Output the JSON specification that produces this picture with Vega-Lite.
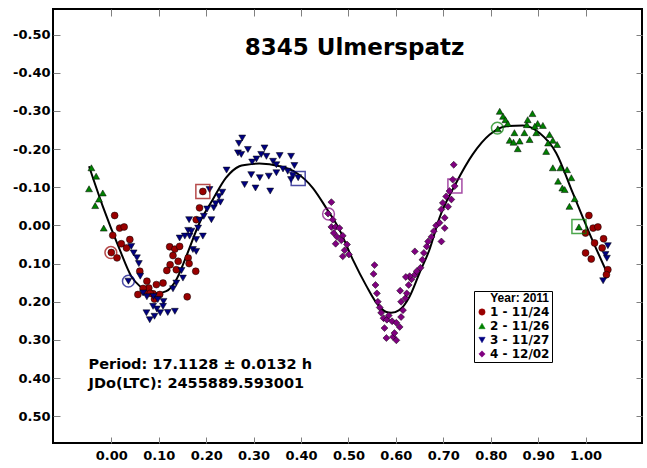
{
  "$schema": "https://vega.github.io/schema/vega-lite/v6.json",
  "width": 589,
  "height": 434,
  "autosize": "none",
  "padding": {"left": 53, "top": 9, "right": 5, "bottom": 25},
  "background": "white",
  "title": {"text": "8345 Ulmerspatz", "font": "DejaVu Sans", "fontSize": 23, "fontWeight": "bold", "color": "black", "offset": -69, "baseline": "alphabetic", "dx": 7, "anchor": "middle", "frame": "group"},
  "config": {
    "view": {"stroke": "black", "strokeWidth": 2},
    "axis": {"grid": false, "domain": false, "tickColor": "#808080", "tickWidth": 1, "labelColor": "black", "labelFont": "DejaVu Sans", "labelFontWeight": "bold", "labelFontSize": 13, "title": null}
  },
  "datasets": {
    "curve": [
      {"x": -0.047, "y": -0.155}, {"x": -0.018, "y": -0.05}, {"x": 0.0175, "y": 0.063}, {"x": 0.042, "y": 0.133},
      {"x": 0.06, "y": 0.159}, {"x": 0.075, "y": 0.172}, {"x": 0.095, "y": 0.178}, {"x": 0.116, "y": 0.172},
      {"x": 0.137, "y": 0.142}, {"x": 0.158, "y": 0.081}, {"x": 0.186, "y": -0.007}, {"x": 0.214, "y": -0.068},
      {"x": 0.242, "y": -0.125}, {"x": 0.27, "y": -0.155}, {"x": 0.285, "y": -0.159}, {"x": 0.312, "y": -0.162},
      {"x": 0.355, "y": -0.155}, {"x": 0.39, "y": -0.138}, {"x": 0.425, "y": -0.098}, {"x": 0.453, "y": -0.046},
      {"x": 0.481, "y": 0.011}, {"x": 0.509, "y": 0.089}, {"x": 0.538, "y": 0.159}, {"x": 0.559, "y": 0.203},
      {"x": 0.58, "y": 0.227}, {"x": 0.59, "y": 0.229}, {"x": 0.607, "y": 0.222}, {"x": 0.629, "y": 0.186},
      {"x": 0.65, "y": 0.124}, {"x": 0.671, "y": 0.063}, {"x": 0.692, "y": -0.02}, {"x": 0.727, "y": -0.111},
      {"x": 0.762, "y": -0.186}, {"x": 0.798, "y": -0.238}, {"x": 0.833, "y": -0.26}, {"x": 0.868, "y": -0.262},
      {"x": 0.903, "y": -0.242}, {"x": 0.938, "y": -0.19}, {"x": 0.973, "y": -0.085}, {"x": 1.008, "y": 0.02},
      {"x": 1.047, "y": 0.129}
    ],
    "points": [
      {"series": "1 - 11/24", "x": 0.007, "y": -0.026}, {"series": "1 - 11/24", "x": 0.0175, "y": 0.007},
      {"series": "1 - 11/24", "x": 0.027, "y": 0.004}, {"series": "1 - 11/24", "x": 0.003, "y": 0.026},
      {"series": "1 - 11/24", "x": 0.039, "y": 0.037}, {"series": "1 - 11/24", "x": 0.021, "y": 0.048},
      {"series": "1 - 11/24", "x": 0.032, "y": 0.059}, {"series": "1 - 11/24", "x": 0.0, "y": 0.071},
      {"series": "1 - 11/24", "x": 0.012, "y": 0.085}, {"series": "1 - 11/24", "x": 0.123, "y": 0.056},
      {"series": "1 - 11/24", "x": 0.134, "y": 0.062}, {"series": "1 - 11/24", "x": 0.144, "y": 0.055},
      {"series": "1 - 11/24", "x": 0.130, "y": 0.079}, {"series": "1 - 11/24", "x": 0.141, "y": 0.094},
      {"series": "1 - 11/24", "x": 0.162, "y": 0.085}, {"series": "1 - 11/24", "x": 0.124, "y": 0.103},
      {"series": "1 - 11/24", "x": 0.117, "y": 0.118}, {"series": "1 - 11/24", "x": 0.137, "y": 0.116},
      {"series": "1 - 11/24", "x": 0.164, "y": 0.100}, {"series": "1 - 11/24", "x": 0.178, "y": 0.120},
      {"series": "1 - 11/24", "x": 0.060, "y": 0.120}, {"series": "1 - 11/24", "x": 0.075, "y": 0.146},
      {"series": "1 - 11/24", "x": 0.095, "y": 0.155}, {"series": "1 - 11/24", "x": 0.109, "y": 0.151},
      {"series": "1 - 11/24", "x": 0.056, "y": 0.181}, {"series": "1 - 11/24", "x": 0.070, "y": 0.173},
      {"series": "1 - 11/24", "x": 0.088, "y": 0.179}, {"series": "1 - 11/24", "x": 0.102, "y": 0.181},
      {"series": "1 - 11/24", "x": 0.091, "y": 0.193}, {"series": "1 - 11/24", "x": 0.160, "y": 0.187},
      {"series": "1 - 11/24", "x": 0.179, "y": -0.015}, {"series": "1 - 11/24", "x": 0.186, "y": -0.046},
      {"series": "1 - 11/24", "x": 0.193, "y": -0.089}, {"series": "1 - 11/24", "x": 0.079, "y": 0.164},
      {"series": "1 - 11/24", "x": 0.067, "y": 0.165}, {"series": "1 - 11/24", "x": 0.082, "y": 0.178},
      {"series": "1 - 11/24", "x": 1.007, "y": -0.026}, {"series": "1 - 11/24", "x": 1.016, "y": 0.007},
      {"series": "1 - 11/24", "x": 1.026, "y": 0.004}, {"series": "1 - 11/24", "x": 1.0, "y": 0.020},
      {"series": "1 - 11/24", "x": 1.038, "y": 0.035}, {"series": "1 - 11/24", "x": 1.019, "y": 0.046},
      {"series": "1 - 11/24", "x": 1.035, "y": 0.059}, {"series": "1 - 11/24", "x": 1.0, "y": 0.072},
      {"series": "1 - 11/24", "x": 1.012, "y": 0.088}, {"series": "1 - 11/24", "x": 1.047, "y": 0.116},
      {"series": "1 - 11/24", "x": 1.044, "y": 0.129},

      {"series": "2 - 11/26", "x": -0.042, "y": -0.151}, {"series": "2 - 11/26", "x": -0.032, "y": -0.129},
      {"series": "2 - 11/26", "x": -0.047, "y": -0.096}, {"series": "2 - 11/26", "x": -0.018, "y": -0.085},
      {"series": "2 - 11/26", "x": -0.026, "y": -0.069}, {"series": "2 - 11/26", "x": -0.034, "y": -0.052},
      {"series": "2 - 11/26", "x": -0.016, "y": 0.007},
      {"series": "2 - 11/26", "x": 0.819, "y": -0.299}, {"series": "2 - 11/26", "x": 0.826, "y": -0.286},
      {"series": "2 - 11/26", "x": 0.831, "y": -0.277}, {"series": "2 - 11/26", "x": 0.836, "y": -0.267},
      {"series": "2 - 11/26", "x": 0.815, "y": -0.253}, {"series": "2 - 11/26", "x": 0.850, "y": -0.243},
      {"series": "2 - 11/26", "x": 0.840, "y": -0.223}, {"series": "2 - 11/26", "x": 0.861, "y": -0.221},
      {"series": "2 - 11/26", "x": 0.848, "y": -0.218}, {"series": "2 - 11/26", "x": 0.857, "y": -0.201},
      {"series": "2 - 11/26", "x": 0.871, "y": -0.243}, {"series": "2 - 11/26", "x": 0.876, "y": -0.264},
      {"series": "2 - 11/26", "x": 0.878, "y": -0.277}, {"series": "2 - 11/26", "x": 0.888, "y": -0.293},
      {"series": "2 - 11/26", "x": 0.882, "y": -0.225}, {"series": "2 - 11/26", "x": 0.896, "y": -0.243},
      {"series": "2 - 11/26", "x": 0.899, "y": -0.267}, {"series": "2 - 11/26", "x": 0.910, "y": -0.262},
      {"series": "2 - 11/26", "x": 0.893, "y": -0.260}, {"series": "2 - 11/26", "x": 0.924, "y": -0.238},
      {"series": "2 - 11/26", "x": 0.921, "y": -0.216}, {"series": "2 - 11/26", "x": 0.931, "y": -0.223},
      {"series": "2 - 11/26", "x": 0.940, "y": -0.212}, {"series": "2 - 11/26", "x": 0.917, "y": -0.194},
      {"series": "2 - 11/26", "x": 0.931, "y": -0.151}, {"series": "2 - 11/26", "x": 0.947, "y": -0.151},
      {"series": "2 - 11/26", "x": 0.961, "y": -0.146}, {"series": "2 - 11/26", "x": 0.970, "y": -0.125},
      {"series": "2 - 11/26", "x": 0.942, "y": -0.116}, {"series": "2 - 11/26", "x": 0.951, "y": -0.098},
      {"series": "2 - 11/26", "x": 0.956, "y": -0.094}, {"series": "2 - 11/26", "x": 0.977, "y": -0.070},
      {"series": "2 - 11/26", "x": 0.966, "y": -0.050}, {"series": "2 - 11/26", "x": 0.986, "y": 0.004},

      {"series": "3 - 11/27", "x": 0.042, "y": 0.055}, {"series": "3 - 11/27", "x": 0.047, "y": 0.072},
      {"series": "3 - 11/27", "x": 0.054, "y": 0.085}, {"series": "3 - 11/27", "x": 0.058, "y": 0.100},
      {"series": "3 - 11/27", "x": 0.036, "y": 0.146}, {"series": "3 - 11/27", "x": 0.061, "y": 0.133},
      {"series": "3 - 11/27", "x": 0.067, "y": 0.177}, {"series": "3 - 11/27", "x": 0.075, "y": 0.187},
      {"series": "3 - 11/27", "x": 0.089, "y": 0.186}, {"series": "3 - 11/27", "x": 0.098, "y": 0.194},
      {"series": "3 - 11/27", "x": 0.110, "y": 0.199}, {"series": "3 - 11/27", "x": 0.074, "y": 0.229},
      {"series": "3 - 11/27", "x": 0.081, "y": 0.247}, {"series": "3 - 11/27", "x": 0.091, "y": 0.238},
      {"series": "3 - 11/27", "x": 0.096, "y": 0.219}, {"series": "3 - 11/27", "x": 0.103, "y": 0.229},
      {"series": "3 - 11/27", "x": 0.109, "y": 0.212}, {"series": "3 - 11/27", "x": 0.119, "y": 0.228},
      {"series": "3 - 11/27", "x": 0.134, "y": 0.225}, {"series": "3 - 11/27", "x": 0.088, "y": 0.212},
      {"series": "3 - 11/27", "x": 0.130, "y": 0.166}, {"series": "3 - 11/27", "x": 0.137, "y": 0.151},
      {"series": "3 - 11/27", "x": 0.151, "y": 0.138}, {"series": "3 - 11/27", "x": 0.148, "y": 0.118},
      {"series": "3 - 11/27", "x": 0.172, "y": 0.063}, {"series": "3 - 11/27", "x": 0.179, "y": 0.068},
      {"series": "3 - 11/27", "x": 0.144, "y": 0.033}, {"series": "3 - 11/27", "x": 0.155, "y": 0.028},
      {"series": "3 - 11/27", "x": 0.165, "y": 0.028}, {"series": "3 - 11/27", "x": 0.179, "y": 0.037},
      {"series": "3 - 11/27", "x": 0.193, "y": 0.028}, {"series": "3 - 11/27", "x": 0.162, "y": 0.013},
      {"series": "3 - 11/27", "x": 0.169, "y": 0.015}, {"series": "3 - 11/27", "x": 0.183, "y": 0.007},
      {"series": "3 - 11/27", "x": 0.164, "y": -0.015}, {"series": "3 - 11/27", "x": 0.186, "y": -0.014},
      {"series": "3 - 11/27", "x": 0.195, "y": -0.024}, {"series": "3 - 11/27", "x": 0.211, "y": -0.015},
      {"series": "3 - 11/27", "x": 0.202, "y": -0.043}, {"series": "3 - 11/27", "x": 0.216, "y": -0.046},
      {"series": "3 - 11/27", "x": 0.220, "y": -0.057}, {"series": "3 - 11/27", "x": 0.230, "y": -0.061},
      {"series": "3 - 11/27", "x": 0.227, "y": -0.076}, {"series": "3 - 11/27", "x": 0.234, "y": -0.087},
      {"series": "3 - 11/27", "x": 0.207, "y": -0.094}, {"series": "3 - 11/27", "x": 0.243, "y": -0.145},
      {"series": "3 - 11/27", "x": 0.267, "y": -0.190}, {"series": "3 - 11/27", "x": 0.276, "y": -0.229},
      {"series": "3 - 11/27", "x": 0.269, "y": -0.215}, {"series": "3 - 11/27", "x": 0.274, "y": -0.186},
      {"series": "3 - 11/27", "x": 0.288, "y": -0.199}, {"series": "3 - 11/27", "x": 0.323, "y": -0.203},
      {"series": "3 - 11/27", "x": 0.316, "y": -0.186}, {"series": "3 - 11/27", "x": 0.327, "y": -0.181},
      {"series": "3 - 11/27", "x": 0.306, "y": -0.174}, {"series": "3 - 11/27", "x": 0.297, "y": -0.166},
      {"series": "3 - 11/27", "x": 0.341, "y": -0.168}, {"series": "3 - 11/27", "x": 0.355, "y": -0.183},
      {"series": "3 - 11/27", "x": 0.348, "y": -0.159}, {"series": "3 - 11/27", "x": 0.379, "y": -0.181},
      {"series": "3 - 11/27", "x": 0.386, "y": -0.157}, {"series": "3 - 11/27", "x": 0.362, "y": -0.148},
      {"series": "3 - 11/27", "x": 0.372, "y": -0.142}, {"series": "3 - 11/27", "x": 0.295, "y": -0.133},
      {"series": "3 - 11/27", "x": 0.313, "y": -0.125}, {"series": "3 - 11/27", "x": 0.332, "y": -0.129},
      {"series": "3 - 11/27", "x": 0.348, "y": -0.138}, {"series": "3 - 11/27", "x": 0.281, "y": -0.107},
      {"series": "3 - 11/27", "x": 0.304, "y": -0.098}, {"series": "3 - 11/27", "x": 0.335, "y": -0.090},
      {"series": "3 - 11/27", "x": 0.379, "y": -0.120}, {"series": "3 - 11/27", "x": 0.394, "y": -0.125},
      {"series": "3 - 11/27", "x": 0.383, "y": -0.131},
      {"series": "3 - 11/27", "x": 1.047, "y": 0.053}, {"series": "3 - 11/27", "x": 1.042, "y": 0.076},
      {"series": "3 - 11/27", "x": 1.045, "y": 0.086}, {"series": "3 - 11/27", "x": 1.037, "y": 0.145},

      {"series": "4 - 12/02", "x": 0.464, "y": -0.061}, {"series": "4 - 12/02", "x": 0.457, "y": -0.031},
      {"series": "4 - 12/02", "x": 0.467, "y": -0.015}, {"series": "4 - 12/02", "x": 0.464, "y": 0.004},
      {"series": "4 - 12/02", "x": 0.473, "y": 0.004}, {"series": "4 - 12/02", "x": 0.481, "y": 0.007},
      {"series": "4 - 12/02", "x": 0.469, "y": 0.020}, {"series": "4 - 12/02", "x": 0.476, "y": 0.030},
      {"series": "4 - 12/02", "x": 0.488, "y": 0.027}, {"series": "4 - 12/02", "x": 0.485, "y": 0.039},
      {"series": "4 - 12/02", "x": 0.473, "y": 0.048}, {"series": "4 - 12/02", "x": 0.497, "y": 0.050},
      {"series": "4 - 12/02", "x": 0.492, "y": 0.065}, {"series": "4 - 12/02", "x": 0.501, "y": 0.076},
      {"series": "4 - 12/02", "x": 0.488, "y": 0.081}, {"series": "4 - 12/02", "x": 0.555, "y": 0.104},
      {"series": "4 - 12/02", "x": 0.553, "y": 0.127}, {"series": "4 - 12/02", "x": 0.557, "y": 0.156},
      {"series": "4 - 12/02", "x": 0.560, "y": 0.178}, {"series": "4 - 12/02", "x": 0.562, "y": 0.200},
      {"series": "4 - 12/02", "x": 0.566, "y": 0.215}, {"series": "4 - 12/02", "x": 0.569, "y": 0.229},
      {"series": "4 - 12/02", "x": 0.574, "y": 0.243}, {"series": "4 - 12/02", "x": 0.581, "y": 0.247},
      {"series": "4 - 12/02", "x": 0.585, "y": 0.236}, {"series": "4 - 12/02", "x": 0.592, "y": 0.251},
      {"series": "4 - 12/02", "x": 0.576, "y": 0.269}, {"series": "4 - 12/02", "x": 0.580, "y": 0.295},
      {"series": "4 - 12/02", "x": 0.594, "y": 0.292}, {"series": "4 - 12/02", "x": 0.601, "y": 0.301},
      {"series": "4 - 12/02", "x": 0.597, "y": 0.282}, {"series": "4 - 12/02", "x": 0.608, "y": 0.266},
      {"series": "4 - 12/02", "x": 0.601, "y": 0.255}, {"series": "4 - 12/02", "x": 0.611, "y": 0.240},
      {"series": "4 - 12/02", "x": 0.615, "y": 0.222}, {"series": "4 - 12/02", "x": 0.611, "y": 0.200},
      {"series": "4 - 12/02", "x": 0.620, "y": 0.191}, {"series": "4 - 12/02", "x": 0.623, "y": 0.178},
      {"series": "4 - 12/02", "x": 0.627, "y": 0.156}, {"series": "4 - 12/02", "x": 0.633, "y": 0.141},
      {"series": "4 - 12/02", "x": 0.640, "y": 0.129}, {"series": "4 - 12/02", "x": 0.644, "y": 0.120},
      {"series": "4 - 12/02", "x": 0.652, "y": 0.111}, {"series": "4 - 12/02", "x": 0.656, "y": 0.090},
      {"series": "4 - 12/02", "x": 0.659, "y": 0.072}, {"series": "4 - 12/02", "x": 0.665, "y": 0.055},
      {"series": "4 - 12/02", "x": 0.640, "y": 0.068}, {"series": "4 - 12/02", "x": 0.629, "y": 0.133},
      {"series": "4 - 12/02", "x": 0.621, "y": 0.135}, {"series": "4 - 12/02", "x": 0.609, "y": 0.171},
      {"series": "4 - 12/02", "x": 0.668, "y": 0.042}, {"series": "4 - 12/02", "x": 0.675, "y": 0.030},
      {"series": "4 - 12/02", "x": 0.680, "y": 0.015}, {"series": "4 - 12/02", "x": 0.685, "y": 0.000},
      {"series": "4 - 12/02", "x": 0.696, "y": 0.042}, {"series": "4 - 12/02", "x": 0.703, "y": 0.007},
      {"series": "4 - 12/02", "x": 0.692, "y": -0.007}, {"series": "4 - 12/02", "x": 0.703, "y": -0.020},
      {"series": "4 - 12/02", "x": 0.696, "y": -0.042}, {"series": "4 - 12/02", "x": 0.710, "y": -0.049},
      {"series": "4 - 12/02", "x": 0.699, "y": -0.059}, {"series": "4 - 12/02", "x": 0.717, "y": -0.068},
      {"series": "4 - 12/02", "x": 0.706, "y": -0.076}, {"series": "4 - 12/02", "x": 0.713, "y": -0.090},
      {"series": "4 - 12/02", "x": 0.724, "y": -0.103}, {"series": "4 - 12/02", "x": 0.720, "y": -0.120},
      {"series": "4 - 12/02", "x": 0.722, "y": -0.159}
    ],
    "markers": [
      {"series": "1 - 11/24", "kind": "circle", "x": -0.001, "y": 0.071},
      {"series": "1 - 11/24", "kind": "square", "x": 0.193, "y": -0.089},
      {"series": "3 - 11/27", "kind": "circle", "x": 0.036, "y": 0.146},
      {"series": "3 - 11/27", "kind": "square", "x": 0.394, "y": -0.123},
      {"series": "4 - 12/02", "kind": "circle", "x": 0.458, "y": -0.030},
      {"series": "4 - 12/02", "kind": "square", "x": 0.7245, "y": -0.103},
      {"series": "2 - 11/26", "kind": "circle", "x": 0.814, "y": -0.255},
      {"series": "2 - 11/26", "kind": "square", "x": 0.986, "y": 0.003}
    ],
    "notes": [
      {"text": "Period: 17.1128 ± 0.0132 h", "x": -0.048, "y": 0.375},
      {"text": "JDo(LTC): 2455889.593001", "x": -0.048, "y": 0.427}
    ]
  },
  "layer": [
    {
      "data": {"name": "curve"},
      "mark": {"type": "line", "color": "black", "strokeWidth": 2, "interpolate": "monotone"},
      "encoding": {
        "x": {"field": "x", "type": "quantitative", "scale": {"domain": [-0.123, 1.119], "nice": false, "zero": false},
              "axis": {"orient": "bottom", "values": [0, 0.1, 0.2, 0.3, 0.4, 0.5, 0.6, 0.7, 0.8, 0.9, 1.0], "labelExpr": "replace(format(datum.value, '.2f'), '\u2212', '-')", "tickSize": -6, "labelPadding": 12}},
        "y": {"field": "y", "type": "quantitative", "scale": {"domain": [-0.567, 0.57], "reverse": true, "nice": false, "zero": false},
              "axis": {"orient": "left", "values": [-0.5, -0.4, -0.3, -0.2, -0.1, 0, 0.1, 0.2, 0.3, 0.4, 0.5], "labelExpr": "replace(format(datum.value, '.2f'), '\u2212', '-')", "tickSize": -7, "labelPadding": 10}}
      }
    },
    {
      "data": {"name": "points"},
      "mark": {"type": "point", "filled": true, "size": 48, "stroke": "black", "strokeWidth": 0.5, "opacity": 1},
      "encoding": {
        "x": {"field": "x", "type": "quantitative", "axis": {"orient": "top", "values": [0, 0.1, 0.2, 0.3, 0.4, 0.5, 0.6, 0.7, 0.8, 0.9, 1.0], "labels": false, "tickSize": -7}},
        "y": {"field": "y", "type": "quantitative", "axis": {"orient": "right", "values": [-0.5, -0.4, -0.3, -0.2, -0.1, 0, 0.1, 0.2, 0.3, 0.4, 0.5], "labels": false, "tickSize": -6}},
        "color": {"field": "series", "type": "nominal",
                  "scale": {"domain": ["1 - 11/24", "2 - 11/26", "3 - 11/27", "4 - 12/02"], "range": ["#990000", "#008000", "#000080", "#800080"]},
                  "legend": {"title": "Year: 2011", "orient": "none", "legendX": 421, "legendY": 282, "strokeColor": "black", "fillColor": "white", "padding": 2,
                             "titleFont": "Liberation Sans", "titleFontSize": 12, "titleFontWeight": "bold", "titleColor": "black", "titleAnchor": "end", "titlePadding": 1,
                             "labelFont": "DejaVu Sans", "labelFontSize": 12, "labelFontWeight": "bold", "labelColor": "black", "labelOffset": 2,
                             "symbolSize": 40, "symbolStrokeWidth": 0.5, "rowPadding": 2}},
        "shape": {"field": "series", "type": "nominal",
                  "scale": {"domain": ["1 - 11/24", "2 - 11/26", "3 - 11/27", "4 - 12/02"], "range": ["circle", "triangle-up", "triangle-down", "diamond"]}}
      }
    },
    {
      "data": {"name": "markers"},
      "transform": [{"filter": "datum.kind === 'circle'"}],
      "mark": {"type": "point", "shape": "circle", "filled": false, "size": 140, "strokeWidth": 1.5},
      "encoding": {
        "x": {"field": "x", "type": "quantitative", "axis": null},
        "y": {"field": "y", "type": "quantitative", "axis": null},
        "stroke": {"field": "series", "type": "nominal", "legend": null,
                   "scale": {"domain": ["1 - 11/24", "2 - 11/26", "3 - 11/27", "4 - 12/02"], "range": ["#990000", "#008000", "#000080", "#800080"]}}
      }
    },
    {
      "data": {"name": "markers"},
      "transform": [{"filter": "datum.kind === 'square'"}],
      "mark": {"type": "point", "shape": "square", "filled": false, "size": 196, "strokeWidth": 1.5},
      "encoding": {
        "x": {"field": "x", "type": "quantitative", "axis": null},
        "y": {"field": "y", "type": "quantitative", "axis": null},
        "stroke": {"field": "series", "type": "nominal", "legend": null}
      }
    },
    {
      "data": {"name": "notes"},
      "mark": {"type": "text", "align": "left", "baseline": "alphabetic", "font": "DejaVu Sans", "fontSize": 14.5, "fontWeight": "bold", "color": "black"},
      "encoding": {
        "x": {"field": "x", "type": "quantitative", "axis": null},
        "y": {"field": "y", "type": "quantitative", "axis": null},
        "text": {"field": "text"}
      }
    }
  ],
  "resolve": {"axis": {"x": "independent", "y": "independent"}}
}
